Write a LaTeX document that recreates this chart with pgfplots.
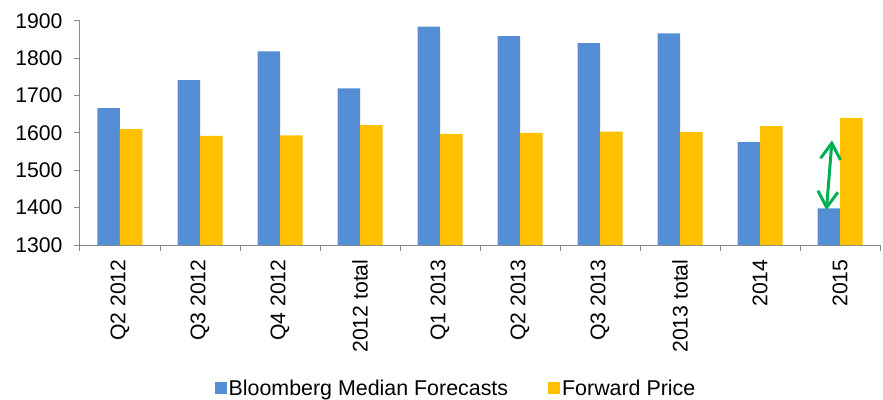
\documentclass[border=0pt]{standalone}
\usepackage{pgfplots}
\pgfplotsset{compat=1.18}
\usepackage{fontspec}
\setmainfont{Liberation Sans}
\usetikzlibrary{arrows.meta}
\definecolor{bblue}{RGB}{85,142,213}
\definecolor{fyellow}{RGB}{255,192,0}
\definecolor{agreen}{RGB}{0,176,80}
\definecolor{axgray}{RGB}{137,137,137}
\begin{document}
\begin{tikzpicture}
\begin{axis}[
  scale only axis,
  width=800pt, height=224.3pt,
  at={(0,0)}, anchor=south west,
  ybar=0pt, bar width=22.5pt,
  xmin=-0.5, xmax=9.5,
  ymin=1300, ymax=1900,
  ytick={1300,1400,...,1900},
  xtick={-0.5,0.5,...,9.5},
  x tick label as interval,
  xticklabels={Q2 2012,Q3 2012,Q4 2012,2012 total,Q1 2013,Q2 2013,Q3 2013,2013 total,2014,2015},
  xticklabel style={rotate=90, anchor=east},
  xticklabel shift=5pt,
  yticklabel shift=8pt,
  axis x line*=bottom,
  axis y line*=left,
  axis line style={axgray, line width=1pt},
  tick style={axgray, line width=1pt},
  tick align=outside,
  major tick length=6pt,
  /pgf/number format/1000 sep={},
  /pgf/number format/assume math mode=true,
  tick label style={font=\fontsize{21.2}{25}\selectfont},
  legend style={at={(0.47,-0.6376)}, anchor=center, draw=none, fill=none,
    font=\fontsize{21.4}{25}\selectfont,
    /tikz/every even column/.append style={column sep=38pt}},
  legend columns=2,
  legend image code/.code={\fill[#1] (0pt,-6pt) rectangle (12pt,6pt);},
]
\addplot[fill=bblue, draw=none] coordinates {
 (0,1666) (1,1741) (2,1818) (3,1719) (4,1884) (5,1859) (6,1840) (7,1866) (8,1575) (9,1398)};
\addplot[fill=fyellow, draw=none] coordinates {
 (0,1610) (1,1592) (2,1593) (3,1621) (4,1597) (5,1600) (6,1603) (7,1602) (8,1618) (9,1640)};
\legend{Bloomberg Median Forecasts,Forward Price}
\draw[agreen, line width=3pt, {Straight Barb[length=16pt,width=20pt]}-{Straight Barb[length=16pt,width=20pt]}]
  (axis cs:8.83,1393) -- (axis cs:8.9,1580);
\end{axis}
\pgfresetboundingbox
\path (-80pt,-154pt) rectangle (803pt,245pt);
\end{tikzpicture}
\end{document}
